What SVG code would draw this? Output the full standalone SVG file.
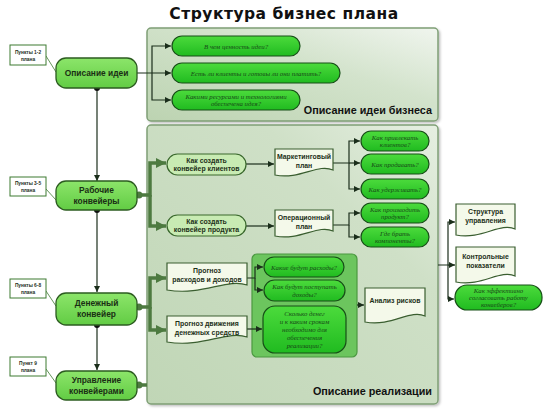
<svg xmlns="http://www.w3.org/2000/svg" width="550" height="411" viewBox="0 0 550 411">
<defs>
  <linearGradient id="gPanelTop" x1="0" y1="1" x2="1" y2="0">
    <stop offset="0" stop-color="#bcd3b1"/>
    <stop offset="0.6" stop-color="#d3e3cc"/>
    <stop offset="1" stop-color="#f0f5ee"/>
  </linearGradient>
  <linearGradient id="gPanelBot" x1="0" y1="1" x2="1" y2="0">
    <stop offset="0" stop-color="#c0d6b6"/>
    <stop offset="0.7" stop-color="#cfe0c7"/>
    <stop offset="1" stop-color="#e6efe2"/>
  </linearGradient>
  <linearGradient id="gBright" x1="0" y1="0" x2="0" y2="1">
    <stop offset="0" stop-color="#4cdb3c"/>
    <stop offset="1" stop-color="#20bb20"/>
  </linearGradient>
  <linearGradient id="gNode" x1="0" y1="0" x2="0" y2="1">
    <stop offset="0" stop-color="#8ce56a"/>
    <stop offset="1" stop-color="#62cc44"/>
  </linearGradient>
  <filter id="sh" x="-5%" y="-5%" width="110%" height="110%">
    <feDropShadow dx="1.5" dy="1.5" stdDeviation="1" flood-color="#000" flood-opacity="0.25"/>
  </filter>
  <marker id="a" viewBox="0 0 10 10" refX="10" refY="5" markerWidth="6" markerHeight="6" markerUnits="userSpaceOnUse" orient="auto">
    <path d="M0,0 L10,5 L0,10 z" fill="#1b2e1b"/>
  </marker>
  <marker id="ta" viewBox="0 0 10 10" refX="10" refY="5" markerWidth="10" markerHeight="10" markerUnits="userSpaceOnUse" orient="auto">
    <path d="M0,0 L10,5 L0,10 z" fill="#4d7a40"/>
  </marker>
  <style>
    .panel{stroke:#7f9f76;stroke-width:1.5;filter:url(#sh)}
    .node{fill:url(#gNode);stroke:#2c5c20;stroke-width:1.3}
    .bright{fill:url(#gBright);stroke:#174f17;stroke-width:1.2}
    .light{fill:#c8ebb3;stroke:#3a682d;stroke-width:1.2}
    .doc{fill:#f4f9ea;stroke:#3a5e30;stroke-width:1.2}
    .call{fill:#fff;stroke:#3d7a30;stroke-width:1}
    .inner{fill:#6cc55e;stroke:#4b9840;stroke-width:1.2}
    .thin{fill:none;stroke:#1b2e1b;stroke-width:1.2}
    .thick{fill:none;stroke:#4d7a40;stroke-width:3.5}
    .lead{fill:none;stroke:#3d7a30;stroke-width:0.8}
    text{font-family:"Liberation Sans",Arial,sans-serif;text-anchor:middle}
    .tn{font-size:8.4px;font-weight:bold;fill:#1a2f14}
    .td{font-size:6.9px;font-weight:bold;fill:#1c3018}
    .ti{font-family:"Liberation Serif","Times New Roman",serif;font-style:italic;font-size:6.8px;fill:#174a17}
    .tc{font-size:4.8px;font-weight:bold;fill:#1c2e1c}
    .tp{font-size:10.8px;font-weight:bold;fill:#111;text-anchor:end}
  </style>
</defs>
<rect width="550" height="411" fill="#fff"/>
<text x="284" y="19" style="font-family:'DejaVu Sans',sans-serif;font-size:15.5px;font-weight:bold;letter-spacing:0.5px;fill:#111">Структура бизнес плана</text>

<g id="panel-idea">
  <rect class="panel" x="147" y="28" width="291" height="93" rx="4" fill="url(#gPanelTop)"/>
  <text class="tp" x="432" y="114">Описание идеи бизнеса</text>
</g>
<g id="panel-real">
  <rect class="panel" x="147" y="125" width="291" height="279" rx="4" fill="url(#gPanelBot)"/>
  <text class="tp" x="432" y="395">Описание реализации</text>
</g>
<g id="panel-inner">
  <rect class="inner" x="252" y="254" width="105" height="103" rx="5"/>
</g>

<g id="connectors">
  <path class="thin" d="M137,73 H171" marker-end="url(#a)"/>
  <path class="thin" d="M152,73 V46 H171" marker-end="url(#a)"/>
  <path class="thin" d="M152,73 V100 H171" marker-end="url(#a)"/>
  <path class="thin" d="M97,88 V181" marker-end="url(#a)"/>
  <path class="thin" d="M97,210 V292" marker-end="url(#a)"/>
  <path class="thin" d="M97,325 V370" marker-end="url(#a)"/>
  <circle cx="97" cy="88" r="3" fill="#111"/>
  <circle cx="97" cy="210" r="3" fill="#111"/>
  <circle cx="97" cy="325" r="3" fill="#111"/>
  <path class="thick" d="M139,195 H150 V163 H166" marker-end="url(#ta)"/>
  <path class="thick" d="M150,195 V226 H166" marker-end="url(#ta)"/>
  <circle cx="139" cy="195" r="3.5" fill="#4d7a40"/>
  <path class="thick" d="M139,307 H150 V278 H166" marker-end="url(#ta)"/>
  <path class="thick" d="M150,307 V330 H166" marker-end="url(#ta)"/>
  <circle cx="139" cy="307" r="3.5" fill="#4d7a40"/>
  <path class="thick" d="M139,385 H147"/>
  <circle cx="139" cy="385" r="3.5" fill="#4d7a40"/>
  <path class="thin" d="M246,164 H274" marker-end="url(#a)"/>
  <path class="thin" d="M246,226 H274" marker-end="url(#a)"/>
  <path class="thin" d="M333,163 H349 V141 H360" marker-end="url(#a)"/>
  <path class="thin" d="M349,163 H360" marker-end="url(#a)"/>
  <path class="thin" d="M349,163 V189 H360" marker-end="url(#a)"/>
  <path class="thin" d="M333,225 H349 V213 H360" marker-end="url(#a)"/>
  <path class="thin" d="M349,225 V237 H360" marker-end="url(#a)"/>
  <path class="thin" d="M247,278 H255 V267 H263" marker-end="url(#a)"/>
  <path class="thin" d="M255,278 V290 H263" marker-end="url(#a)"/>
  <path class="thin" d="M247,329 H262" marker-end="url(#a)"/>
  <path class="thin" d="M357,305 H364" marker-end="url(#a)"/>
  <path class="thin" d="M438,265 H448 V222 H455" marker-end="url(#a)"/>
  <path class="thin" d="M448,265 H455" marker-end="url(#a)"/>
  <path class="thin" d="M448,265 V299 H454" marker-end="url(#a)"/>
  <path class="lead" d="M46,56 L56,72"/>
  <path class="lead" d="M46,189 L56,200"/>
  <path class="lead" d="M46,291 L56,306"/>
  <path class="lead" d="M46,369 L56,383"/>
</g>

<g id="n-idea">
  <rect class="node" x="56" y="58" width="81" height="30" rx="10"/>
  <text class="tn" x="96.5" y="76">Описание идеи</text>
</g>
<g id="n-work">
  <rect class="node" x="56" y="181" width="81" height="29" rx="10"/>
  <text class="tn" x="96.5" y="193">Рабочие</text>
  <text class="tn" x="96.5" y="204">конвейеры</text>
</g>
<g id="n-money">
  <rect class="node" x="56" y="293" width="81" height="32" rx="10"/>
  <text class="tn" x="96.5" y="306">Денежный</text>
  <text class="tn" x="96.5" y="317">конвейер</text>
</g>
<g id="n-manage">
  <rect class="node" x="56" y="371" width="81" height="29" rx="10"/>
  <text class="tn" x="96.5" y="383">Управление</text>
  <text class="tn" x="96.5" y="394">конвейерами</text>
</g>

<g id="c1"><rect class="call" x="10" y="45" width="36" height="20"/><text class="tc" x="28" y="53.5">Пункты 1-2</text><text class="tc" x="28" y="60.5">плана</text></g>
<g id="c2"><rect class="call" x="10" y="177" width="36" height="19"/><text class="tc" x="28" y="185">Пункты 3-5</text><text class="tc" x="28" y="192">плана</text></g>
<g id="c3"><rect class="call" x="10" y="279" width="36" height="19"/><text class="tc" x="28" y="287">Пункты 6-8</text><text class="tc" x="28" y="294">плана</text></g>
<g id="c4"><rect class="call" x="10" y="357" width="36" height="19"/><text class="tc" x="28" y="365">Пункт 9</text><text class="tc" x="28" y="372">плана</text></g>

<g id="q-value"><rect class="bright" x="172" y="36" width="128" height="20" rx="10"/><text class="ti" x="236" y="48.5">В чем ценность идеи?</text></g>
<g id="q-clients"><rect class="bright" x="172" y="63" width="168" height="20" rx="10"/><text class="ti" x="256" y="75.5">Есть ли клиенты и готовы ли они платить?</text></g>
<g id="q-resources"><rect class="bright" x="172" y="90" width="128" height="20" rx="10"/><text class="ti" x="236" y="98.5">Какими ресурсами и технологиями</text><text class="ti" x="236" y="106">обеспечена идея?</text></g>

<g id="n-clientconv"><rect class="light" x="167" y="154" width="79" height="21" rx="10.5"/><text class="td" x="206.5" y="162.5">Как создать</text><text class="td" x="206.5" y="171">конвейер клиентов</text></g>
<g id="n-prodconv"><rect class="light" x="167" y="215" width="79" height="21" rx="10.5"/><text class="td" x="206.5" y="223.5">Как создать</text><text class="td" x="206.5" y="232">конвейер продукта</text></g>

<g id="d-marketing"><path class="doc" d="M275,149 H333 V170 C318,163 300,180 275,175 Z"/><text class="td" x="304" y="159">Маркетинговый</text><text class="td" x="304" y="168">план</text></g>
<g id="d-operation"><path class="doc" d="M275,210 H333 V231 C318,224 300,241 275,236 Z"/><text class="td" x="304" y="220">Операционный</text><text class="td" x="304" y="229">план</text></g>

<g id="q-attract"><rect class="bright" x="361" y="131" width="68" height="20" rx="10"/><text class="ti" x="395" y="139.5">Как привлекать</text><text class="ti" x="395" y="147">клиентов?</text></g>
<g id="q-sell"><rect class="bright" x="361" y="154" width="68" height="20" rx="10"/><text class="ti" x="395" y="166.5">Как продавать?</text></g>
<g id="q-retain"><rect class="bright" x="361" y="179" width="68" height="20" rx="10"/><text class="ti" x="395" y="191.5">Как удерживать?</text></g>
<g id="q-produce"><rect class="bright" x="361" y="203" width="68" height="20" rx="10"/><text class="ti" x="395" y="211.5">Как производить</text><text class="ti" x="395" y="219">продукт?</text></g>
<g id="q-components"><rect class="bright" x="361" y="227" width="68" height="20" rx="10"/><text class="ti" x="395" y="235.5">Где брать</text><text class="ti" x="395" y="243">компоненты?</text></g>

<g id="d-forecast"><path class="doc" d="M167,263 H247 V285 C227,278 203,296 167,290 Z"/><text class="td" x="207" y="273">Прогноз</text><text class="td" x="207" y="282">расходов и доходов</text></g>
<g id="d-cashflow"><path class="doc" d="M167,316 H247 V337 C227,330 203,348 167,342 Z"/><text class="td" x="207" y="326">Прогноз движения</text><text class="td" x="207" y="335">денежных средств</text></g>

<g id="q-expenses"><rect class="bright" x="264" y="257" width="80" height="20" rx="10"/><text class="ti" x="304" y="269.5">Какие будут расходы?</text></g>
<g id="q-income"><rect class="bright" x="264" y="280" width="81" height="21" rx="10.5"/><text class="ti" x="304.5" y="289">Как будут поступать</text><text class="ti" x="304.5" y="296.5">доходы?</text></g>
<g id="q-money"><rect class="bright" x="263" y="306" width="83" height="47" rx="12"/>
  <text class="ti" x="304.5" y="316">Сколько денег</text><text class="ti" x="304.5" y="324">и к каким срокам</text><text class="ti" x="304.5" y="332">необходимо для</text><text class="ti" x="304.5" y="340">обеспечения</text><text class="ti" x="304.5" y="348">реализации?</text></g>

<g id="d-risk"><path class="doc" d="M365,288 H425 V316 C410,309 392,327 365,322 Z"/><text class="td" x="395" y="303">Анализ рисков</text></g>

<g id="d-structure"><path class="doc" d="M456,204 H515 V229 C500,222 482,240 456,235 Z"/><text class="td" x="485.5" y="214">Структура</text><text class="td" x="485.5" y="223">управления</text></g>
<g id="d-kpi"><path class="doc" d="M456,247 H515 V276 C500,269 482,287 456,282 Z"/><text class="td" x="485.5" y="259">Контрольные</text><text class="td" x="485.5" y="268">показатели</text></g>
<g id="q-coord"><rect class="bright" x="455" y="285" width="87" height="25" rx="12"/><text class="ti" x="498.5" y="293">Как эффективно</text><text class="ti" x="498.5" y="300">согласовать работу</text><text class="ti" x="498.5" y="307">конвейеров?</text></g>
</svg>
